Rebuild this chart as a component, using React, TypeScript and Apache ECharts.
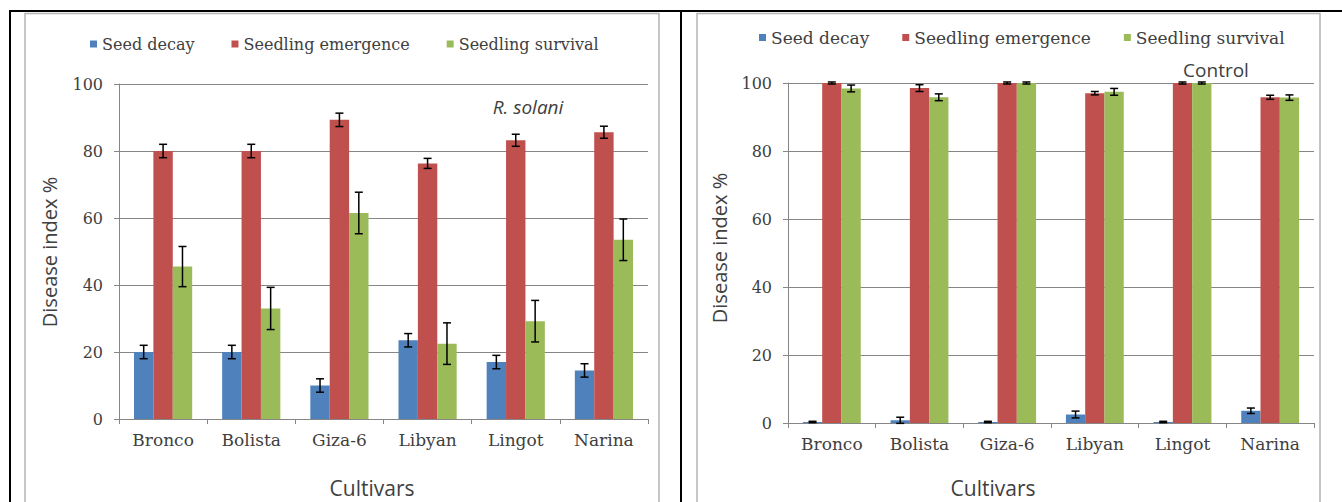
import React, { useEffect, useRef } from "react";
import * as echarts from "echarts";

const categories = ["Bronco", "Bolista", "Giza-6", "Libyan", "Lingot", "Narina"];
const seriesNames = ["Seed decay", "Seedling emergence", "Seedling survival"];
const colors = ["#4F81BD", "#C0504D", "#9BBB59"];
const yTicks = [0, 20, 40, 60, 80, 100];

// R. solani panel
const solaniDecay = [20, 20, 10, 23.5, 17, 14.5];
const solaniDecayErr = [2, 2, 2, 2, 2, 2];
const solaniEmergence = [80, 80, 89.3, 76.3, 83.2, 85.6];
const solaniEmergenceErr = [2, 2, 2, 1.5, 1.8, 1.8];
const solaniSurvival = [45.5, 33, 61.5, 22.5, 29.2, 53.5];
const solaniSurvivalErr = [6, 6.3, 6.2, 6.2, 6.2, 6.2];

// Control panel
const controlDecay = [0.3, 0.8, 0.3, 2.5, 0.3, 3.6];
const controlDecayErr = [0.2, 0.9, 0.2, 1, 0.2, 0.8];
const controlEmergence = [100, 98.5, 100, 97, 100, 95.8];
const controlEmergenceErr = [0.3, 1, 0.3, 0.5, 0.3, 0.6];
const controlSurvival = [98.4, 95.8, 100, 97.4, 100, 95.7];
const controlSurvivalErr = [1, 1, 0.3, 1, 0.3, 0.8];

const GAP = 0.34;
const SERIF = "DejaVu Serif";
const SANS = "Open Sans";
const AXIS_GRAY = "#868686";
const TEXT_GRAY = "#404040";

function errRender(k: number) {
  return (params: any, api: any) => {
    const ci = api.value(0);
    const lo = api.coord([ci, api.value(1)]);
    const hi = api.coord([ci, api.value(2)]);
    const band = api.size([1, 0])[0];
    const bw = (band * (1 - GAP)) / 3;
    const x = lo[0] + (k - 1) * bw;
    const hw = 4;
    const style = { stroke: "#000", lineWidth: 1.5 };
    return {
      type: "group",
      children: [
        { type: "line", shape: { x1: x, y1: hi[1], x2: x, y2: lo[1] }, style },
        { type: "line", shape: { x1: x - hw, y1: hi[1], x2: x + hw, y2: hi[1] }, style },
        { type: "line", shape: { x1: x - hw, y1: lo[1], x2: x + hw, y2: lo[1] }, style },
      ],
    };
  };
}

function panelSeries(gi: number, vals: number[][], errs: number[][]) {
  const out: any[] = [];
  vals.forEach((v, k) => {
    out.push({
      type: "bar",
      name: seriesNames[k],
      xAxisIndex: gi,
      yAxisIndex: gi,
      data: v,
      barGap: "0%",
      barCategoryGap: GAP * 100 + "%",
      itemStyle: { color: colors[k] },
    });
  });
  vals.forEach((v, k) => {
    out.push({
      type: "custom",
      name: "err" + gi + "_" + k,
      xAxisIndex: gi,
      yAxisIndex: gi,
      z: 5,
      renderItem: errRender(k),
      encode: { x: 0, y: [1, 2] },
      data: v.map((val, i) => [i, val - errs[k][i], val + errs[k][i]]),
    });
  });
  return out;
}

function xAxis(gi: number, fs: number) {
  return {
    type: "category",
    gridIndex: gi,
    data: categories,
    axisLine: { lineStyle: { color: AXIS_GRAY, width: 1 } },
    axisTick: { show: true, length: 5, lineStyle: { color: AXIS_GRAY } },
    axisLabel: { fontFamily: SERIF, fontSize: fs, color: TEXT_GRAY, margin: 12 },
  };
}

function yAxis(gi: number, fs: number) {
  return {
    type: "value",
    gridIndex: gi,
    min: 0,
    max: 100,
    interval: 20,
    axisLine: { show: true, lineStyle: { color: AXIS_GRAY, width: 1 } },
    axisTick: { show: true, length: 5, lineStyle: { color: AXIS_GRAY } },
    axisLabel: {
      fontFamily: SERIF,
      fontSize: fs,
      color: TEXT_GRAY,
      margin: 16,
      formatter: (v: number) => (yTicks.includes(v) ? String(v) : ""),
    },
    splitLine: { show: true, lineStyle: { color: AXIS_GRAY, width: 1 } },
  };
}

function legend(left: number, top: number, fs: number, gap: number) {
  return {
    left,
    top,
    icon: "rect",
    itemWidth: 7,
    itemHeight: 7,
    itemGap: gap,
    data: seriesNames,
    textStyle: { fontFamily: SERIF, fontSize: fs, color: TEXT_GRAY },
  };
}

export default function App() {
  const ref = useRef<HTMLDivElement>(null);
  useEffect(() => {
    if (!ref.current) return;
    const chart = echarts.init(ref.current, undefined, { renderer: "svg" });
    const option: any = {
      animation: false,
      backgroundColor: "#ffffff",
      legend: [legend(85, 31, 16, 37), legend(754, 24, 17, 33)],
      grid: [
        { left: 119, top: 84, width: 529, height: 335 },
        { left: 788, top: 83, width: 526, height: 340 },
      ],
      xAxis: [xAxis(0, 17), xAxis(1, 17)],
      yAxis: [yAxis(0, 16), yAxis(1, 16)],
      series: [
        ...panelSeries(0, [solaniDecay, solaniEmergence, solaniSurvival], [solaniDecayErr, solaniEmergenceErr, solaniSurvivalErr]),
        ...panelSeries(1, [controlDecay, controlEmergence, controlSurvival], [controlDecayErr, controlEmergenceErr, controlSurvivalErr]),
      ],
      graphic: [
        // table frame
        { type: "line", shape: { x1: 9, y1: 11, x2: 1342, y2: 11 }, style: { stroke: "#000", lineWidth: 2 } },
        { type: "line", shape: { x1: 10, y1: 11, x2: 10, y2: 502 }, style: { stroke: "#000", lineWidth: 2 } },
        { type: "line", shape: { x1: 681, y1: 11, x2: 681, y2: 502 }, style: { stroke: "#000", lineWidth: 2 } },
        // chart borders
        { type: "rect", shape: { x: 25, y: 13.5, width: 634, height: 500 }, style: { fill: "none", stroke: "#B4B4B4", lineWidth: 1.5 } },
        { type: "rect", shape: { x: 697, y: 13.5, width: 623, height: 500 }, style: { fill: "none", stroke: "#B4B4B4", lineWidth: 1.5 } },
        // titles inside plot
        { type: "text", x: 528, y: 107, style: { text: "R. solani", fontFamily: SANS, fontStyle: "italic", fontSize: 19, fill: "#404040", align: "center", verticalAlign: "middle" } },
        { type: "text", x: 1216, y: 70, style: { text: "Control", fontFamily: SANS, fontSize: 19, fill: "#404040", align: "center", verticalAlign: "middle" } },
        // axis titles
        { type: "text", x: 49, y: 252, rotation: Math.PI / 2, style: { text: "Disease index %", fontFamily: SANS, fontSize: 20, fill: TEXT_GRAY, align: "center", verticalAlign: "middle" } },
        { type: "text", x: 719, y: 248, rotation: Math.PI / 2, style: { text: "Disease index %", fontFamily: SANS, fontSize: 20, fill: TEXT_GRAY, align: "center", verticalAlign: "middle" } },
        { type: "text", x: 372, y: 488, style: { text: "Cultivars", fontFamily: SANS, fontSize: 21, fill: TEXT_GRAY, align: "center", verticalAlign: "middle" } },
        { type: "text", x: 993, y: 488, style: { text: "Cultivars", fontFamily: SANS, fontSize: 21, fill: TEXT_GRAY, align: "center", verticalAlign: "middle" } },
      ],
    };
    chart.setOption(option);
    return () => chart.dispose();
  }, []);
  return (
    <div
      ref={ref}
      style={{ position: "absolute", left: 0, top: 0, width: 1342, height: 502, background: "#fff" }}
    />
  );
}
